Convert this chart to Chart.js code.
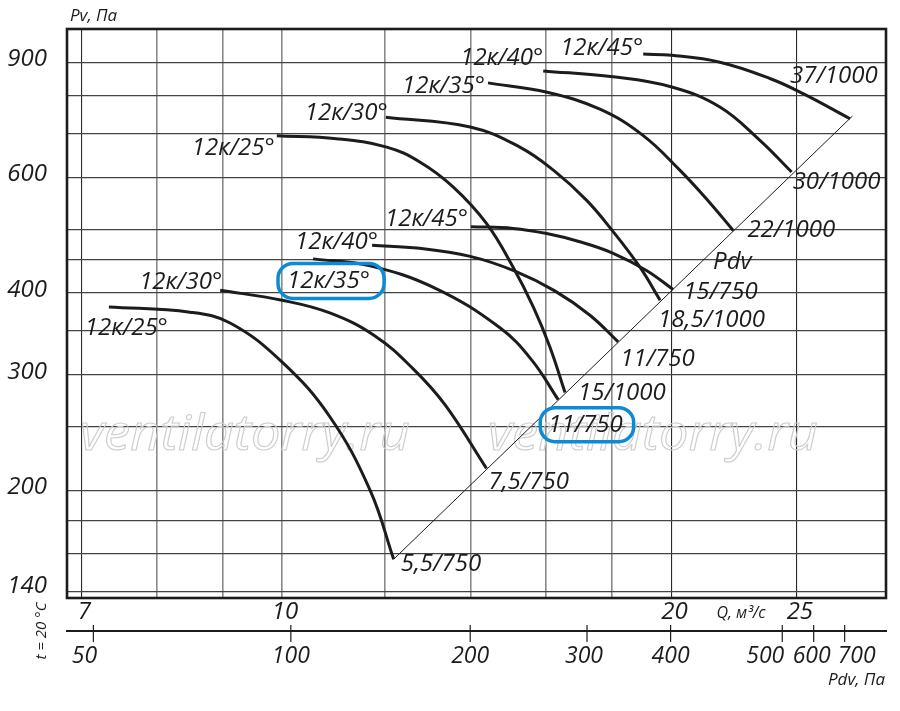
<!DOCTYPE html>
<html>
<head>
<meta charset="utf-8">
<script src="https://cdn.jsdelivr.net/npm/chart.js@4.4.1/dist/chart.umd.min.js"></script>
<style>
    html, body { margin: 0; padding: 0; background: #fff; }
    #wrap { width: 900px; height: 711px; }
</style>
</head>
<body>
<div id="wrap"><canvas id="fan"></canvas></div>
<script>
'use strict';

// --- data: Q, м³/с and Pv, Па ---

// 750 rpm group
var lo25Q  = [7.35, 8.49, 9.12, 10.0, 10.89, 11.70, 12.2];
var lo25Pv = [381, 374, 360, 314, 259, 200, 157];
var lo30Q  = [8.96, 10.0, 10.89, 11.80, 12.62, 13.37, 14.39];
var lo30Pv = [404, 390, 373, 344, 307, 270, 216];
var lo35Q  = [10.57, 11.70, 13.13, 14.74, 15.60, 16.35];
var lo35Pv = [451, 440, 407, 354, 316, 275];
var lo40Q  = [11.74, 12.78, 13.98, 15.14, 16.25, 17.30, 18.19];
var lo40Pv = [473, 468, 455, 432, 403, 370, 337];
var lo45Q  = [14.00, 15.09, 16.02, 16.99, 18.03, 19.13, 20.06];
var lo45Pv = [505, 502, 493, 479, 460, 433, 405];

// 1000 rpm group
var hi25Q  = [9.91, 11.02, 12.05, 12.78, 13.56, 14.39, 15.09, 15.64, 16.11, 16.55];
var hi25Pv = [695, 688, 668, 634, 581, 511, 438, 381, 331, 282];
var hi30Q  = [12.03, 13.98, 15.27, 16.21, 17.20, 17.99, 18.91, 19.60];
var hi30Pv = [742, 717, 668, 616, 554, 499, 438, 390];
var hi35Q  = [14.43, 16.03, 17.61, 19.01, 20.30, 21.42, 22.33];
var hi35Pv = [837, 810, 763, 696, 616, 549, 498];
var hi40Q  = [15.92, 18.03, 20.01, 21.80, 23.41, 24.77];
var hi40Pv = [873, 855, 825, 769, 684, 612];
var hi45Q  = [19.02, 20.01, 21.80, 23.83, 25.28, 27.48];
var hi45Pv = [926, 922, 900, 850, 806, 738];

// Pdv line (ends of the curves)
var pdvLineQ  = [12.2, 27.6];
var pdvLinePv = [157, 745];

var bladeNames = ['12к/25°', '12к/30°', '12к/35°', '12к/40°', '12к/45°',
                  '12к/25°', '12к/30°', '12к/35°', '12к/40°', '12к/45°'];
var motorNames = ['5,5/750', '7,5/750', '11/750', '11/750', '15/750',
                  '15/1000', '18,5/1000', '22/1000', '30/1000', '37/1000'];

// axes
var qGrid    = [7, 8, 9, 10, 12, 14, 16, 18, 20, 25];
var qLabels  = [7, 10, 20, 25];
var pvGrid   = [140, 160, 180, 200, 250, 300, 350, 400, 450, 500, 600, 700, 800, 900];
var pvLabels = [140, 200, 300, 400, 600, 900];
var pdvTicks = [50, 100, 200, 300, 400, 500, 600, 700];
var pdvAtQ   = [7.15, 10.16, 13.98, 17.21, 19.97, 24.36, 25.76, 27.22];

// --- layout / style ---
var font = '"Open Sans", "Noto Sans", "DejaVu Sans", sans-serif';
var ink = '#1c1c1c';
var blue = '#0b8bd6';
var labelSize = 24;
var startOffset = [[59, 21], [2, -8], [57, 22], [6, -3], [-3, -8],
                   [-2, 12], [2, -4], [-3, 3], [0, -13], [0, -6]];
var endOffset = [[7, 5], [2, 14], [-10, 25], [2, 17], [10, 3],
                 [13, 1], [-2, 20], [14, -1], [1, 10], [-60, -43]];
var boxedCurve = 2;
var pdvNudge = [-9, 0, 0, -3, 0, -17, -2, 12];

function pts(qs, ps) {
    return qs.map(function (q, i) { return { x: q, y: ps[i] }; });
}

var series = [
    pts(lo25Q, lo25Pv), pts(lo30Q, lo30Pv), pts(lo35Q, lo35Pv), pts(lo40Q, lo40Pv), pts(lo45Q, lo45Pv),
    pts(hi25Q, hi25Pv), pts(hi30Q, hi30Pv), pts(hi35Q, hi35Pv), pts(hi40Q, hi40Pv), pts(hi45Q, hi45Pv)
];

var datasets = series.map(function (d, i) {
    return {
        label: bladeNames[i],
        data: d,
        borderColor: ink,
        borderWidth: 3,
        pointRadius: 0,
        tension: 0.4,
        borderCapStyle: 'butt',
        fill: false
    };
});
datasets.push({
    label: 'Pdv',
    data: pts(pdvLineQ, pdvLinePv),
    borderColor: ink,
    borderWidth: 1,
    pointRadius: 0,
    fill: false
});

function say(ctx, s, x, y, size, align) {
    ctx.font = 'italic ' + size + 'px ' + font;
    ctx.textAlign = align || 'left';
    ctx.textBaseline = 'middle';
    ctx.fillText(s, x, y);
}

function roundBox(ctx, x0, y0, x1, y1, r) {
    ctx.beginPath();
    ctx.moveTo(x0 + r, y0);
    ctx.lineTo(x1 - r, y0);
    ctx.arcTo(x1, y0, x1, y0 + r, r);
    ctx.lineTo(x1, y1 - r);
    ctx.arcTo(x1, y1, x1 - r, y1, r);
    ctx.lineTo(x0 + r, y1);
    ctx.arcTo(x0, y1, x0, y1 - r, r);
    ctx.lineTo(x0, y0 + r);
    ctx.arcTo(x0, y0, x0 + r, y0, r);
    ctx.closePath();
    ctx.stroke();
}

var decor = {
    id: 'decor',
    beforeDatasetsDraw: function (chart) {
        // watermark under the curves
        var ctx = chart.ctx, a = chart.chartArea;
        ctx.save();
        ctx.font = 'italic 50px ' + font;
        ctx.textAlign = 'left';
        ctx.textBaseline = 'alphabetic';
        ctx.strokeStyle = '#cdcdcd';
        ctx.lineWidth = 1.1;
        var w = ctx.measureText('ventilatorry.ru').width;
        [a.left + 14, a.left + 422].forEach(function (x0) {
            ctx.save();
            ctx.translate(x0, a.top + 422);
            ctx.scale(330 / w, 1);
            ctx.strokeText('ventilatorry.ru', 0, 0);
            ctx.restore();
        });
        ctx.restore();
    },
    afterDraw: function (chart) {
        var ctx = chart.ctx, a = chart.chartArea;
        var xs = chart.scales.x, ys = chart.scales.y;
        ctx.save();
        ctx.fillStyle = ink;
        ctx.strokeStyle = ink;

        // frame
        ctx.lineWidth = 2.6;
        ctx.strokeRect(a.left + 1, a.top + 1, a.right - a.left - 2, a.bottom - a.top - 1);

        // Pv axis
        pvLabels.forEach(function (v) {
            var y = ys.getPixelForValue(v) - (v === 140 ? 6 : 3);
            say(ctx, String(v), a.left - 19, y, labelSize, 'right');
        });
        say(ctx, 'Pv, Па', a.left + 4, 16, 17, 'left');

        // Q axis
        qLabels.forEach(function (v) {
            say(ctx, String(v), xs.getPixelForValue(v) + 3, a.bottom + 14, labelSize, 'center');
        });
        say(ctx, 'Q, м³/с', 741, a.bottom + 15, 16, 'center');

        // Pdv axis
        var y0 = a.bottom + 33;
        ctx.lineWidth = 2;
        ctx.beginPath();
        ctx.moveTo(a.left, y0);
        ctx.lineTo(a.right, y0);
        ctx.stroke();
        ctx.lineWidth = 1.2;
        pdvTicks.forEach(function (v, i) {
            var x = xs.getPixelForValue(pdvAtQ[i]);
            ctx.beginPath();
            ctx.moveTo(x, y0 - 6);
            ctx.lineTo(x, y0 + 11);
            ctx.stroke();
            say(ctx, String(v), x + pdvNudge[i], y0 + 25, 23, 'center');
        });
        say(ctx, 'Pdv, Па', a.right - 2, a.bottom + 82, 17, 'right');

        ctx.save();
        ctx.translate(42, y0);
        ctx.rotate(-Math.PI / 2);
        say(ctx, 't = 20 °C', 0, 0, 15, 'center');
        ctx.restore();

        // curve names and motor labels
        for (var i = 0; i < series.length; i++) {
            var pts = chart.getDatasetMeta(i).data;
            var p0 = pts[0], p1 = pts[pts.length - 1];
            var sx = p0.x + startOffset[i][0], sy = p0.y + startOffset[i][1];
            var ex = p1.x + endOffset[i][0], ey = p1.y + endOffset[i][1];
            say(ctx, bladeNames[i], sx, sy, labelSize, 'right');
            say(ctx, motorNames[i], ex, ey, labelSize, 'left');
            if (i === boxedCurve) {
                ctx.save();
                ctx.strokeStyle = blue;
                ctx.lineWidth = 3.5;
                ctx.font = 'italic ' + labelSize + 'px ' + font;
                var w1 = ctx.measureText(bladeNames[i]).width;
                roundBox(ctx, sx - w1 - 9, sy - 17.5, sx + 14, sy + 17.5, 15);
                var w2 = ctx.measureText(motorNames[i]).width;
                roundBox(ctx, ex - 8, ey - 17, ex + w2 + 11, ey + 17, 15);
                ctx.restore();
            }
        }

        // Pdv label beside the line
        var line = chart.getDatasetMeta(series.length).data;
        var lx = line[0].x + (line[1].x - line[0].x) * 0.67;
        var ly = line[0].y + (line[1].y - line[0].y) * 0.67;
        say(ctx, 'Pdv', lx + 12, ly, labelSize, 'left');

        ctx.restore();
    }
};

var chart = new Chart(document.getElementById('fan'), {
    type: 'line',
    data: { datasets: datasets },
    plugins: [decor],
    options: {
        responsive: true,
        maintainAspectRatio: false,
        animation: false,
        layout: { padding: { left: 66, top: 28, right: 13, bottom: 113 } },
        plugins: {
            legend: { display: false },
            tooltip: { enabled: false }
        },
        scales: {
            x: {
                type: 'logarithmic',
                min: 6.81,
                max: 29.35,
                afterBuildTicks: function (s) {
                    s.ticks = qGrid.map(function (v) { return { value: v }; });
                },
                ticks: { display: false },
                border: { display: false },
                grid: {
                    drawTicks: false,
                    color: function (c) {
                        var v = c.tick && c.tick.value;
                        return (v === 7 || v === 20 || v === 25) ? '#2a2a2a' : '#8a8a8a';
                    },
                    lineWidth: function (c) {
                        var v = c.tick && c.tick.value;
                        return (v === 7 || v === 20 || v === 25) ? 1.1 : 1.6;
                    }
                }
            },
            y: {
                type: 'logarithmic',
                min: 137,
                max: 1015,
                afterBuildTicks: function (s) {
                    s.ticks = pvGrid.map(function (v) { return { value: v }; });
                },
                ticks: { display: false },
                border: { display: false },
                grid: { drawTicks: false, color: '#444', lineWidth: 1.2 }
            }
        }
    }
});
</script>
</body>
</html>
